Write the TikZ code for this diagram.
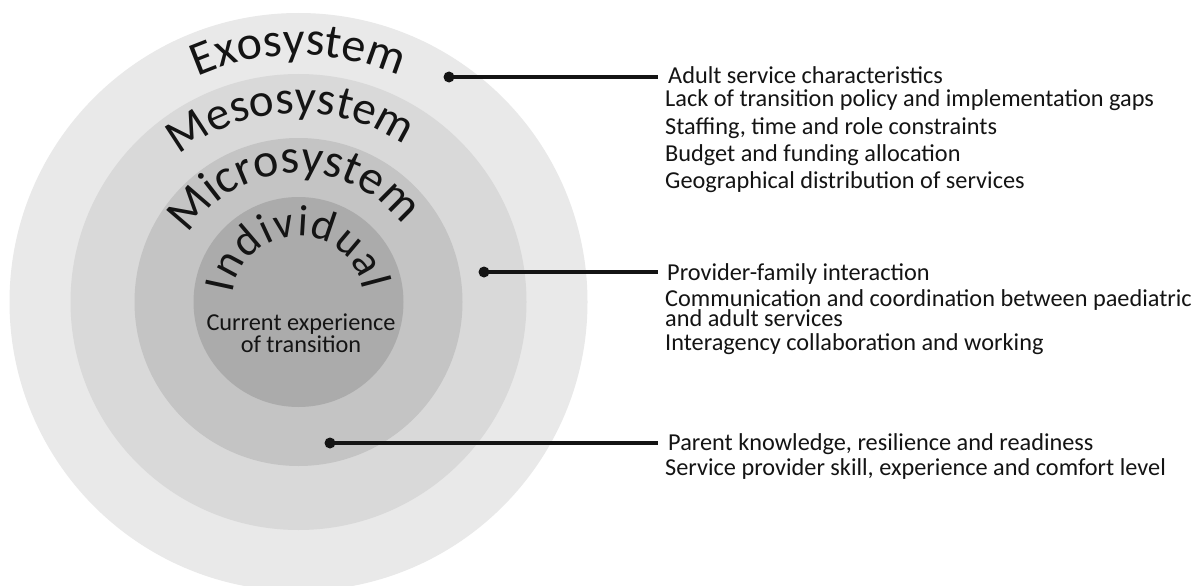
\documentclass[tikz,border=0pt]{standalone}
\usepackage{fontspec}
\setmainfont{Carlito}
\usetikzlibrary{decorations.text}
\definecolor{exo}{RGB}{233,233,233}
\definecolor{meso}{RGB}{217,217,217}
\definecolor{micro}{RGB}{196,196,196}
\definecolor{indiv}{RGB}{171,171,171}
\definecolor{ink}{RGB}{20,20,20}
\begin{document}
\begin{tikzpicture}[x=1pt,y=1pt,
  dot/.style={circle,fill=ink,inner sep=0pt,minimum size=11pt},
  conn/.style={line width=3.3pt,draw=ink},
  item/.style={anchor=base west,inner sep=0pt,text=ink,font=\fontsize{24.3}{24.3}\selectfont},
  arclabel/.style={decorate,decoration={text along path,text align=center,text color=ink,#1}},
  fitlabel/.style={decorate,decoration={text along path,text align={fit to path},text color=ink,#1}}]
\useasboundingbox (0,0) rectangle (1199,-586);
\fill[white] (0,0) rectangle (1199,-586);
\coordinate (C) at (298.5,-302);
\begin{scope}
\clip (0,0) rectangle (1199,-586);
\fill[exo] (C) circle[radius=289];
\fill[meso] (C) circle[radius=228];
\fill[micro] (C) circle[radius=164];
\fill[indiv] (C) circle[radius=105];
\end{scope}
% curved labels
\path[shift={(C)},arclabel={text={|\fontsize{48}{48}\selectfont|Exosystem}}]
  (160:247) arc[start angle=160,end angle=20,radius=247];
\path[shift={(C)},arclabel={text={|\fontsize{47}{47}\selectfont|Mesosystem}}]
  (172.5:189) arc[start angle=172.5,end angle=12.5,radius=189];
\path[shift={(C)},arclabel={text={|\fontsize{48}{48}\selectfont|Microsystem}}]
  (177.5:129) arc[start angle=177.5,end angle=7.5,radius=129];
\path[shift={(C)},fitlabel={text={|\fontsize{44}{44}\selectfont|Individual}}]
  (172.5:66) arc[start angle=172.5,end angle=10.5,radius=66];
\node[align=center,text=ink,font=\fontsize{24.3}{22}\selectfont] (core) at (301,-333)
  {Current experience\\of transition};
% connectors
\node[dot] (d1) at (449,-77) {};
\node[dot] (d2) at (484,-272) {};
\node[dot] (d3) at (330,-443) {};
\coordinate (e1) at (658,-77);
\coordinate (e2) at (658,-272);
\coordinate (e3) at (658,-443);
\draw[conn] (d1.center) -- (e1);
\draw[conn] (d2.center) -- (e2);
\draw[conn] (d3.center) -- (e3);
% text group 1
\node[item] (a1) at (668,-84) {Adult service characteristics};
\node[item] (a2) at (665,-106) {Lack of transition policy and implementation gaps};
\node[item] (a3) at (665,-134) {Staffing, time and role constraints};
\node[item] (a4) at (665,-161) {Budget and funding allocation};
\node[item] (a5) at (665,-188) {Geographical distribution of services};
% text group 2
\node[item] (b1) at (667,-280) {Provider-family interaction};
\node[item] (b2) at (665,-306.5) {Communication and coordination between paediatric};
\node[item] (b3) at (665,-326.5) {and adult services};
\node[item] (b4) at (665,-350) {Interagency collaboration and working};
% text group 3
\node[item] (c1) at (668,-450) {Parent knowledge, resilience and readiness};
\node[item] (c2) at (665,-475) {Service provider skill, experience and comfort level};
\end{tikzpicture}
\end{document}
